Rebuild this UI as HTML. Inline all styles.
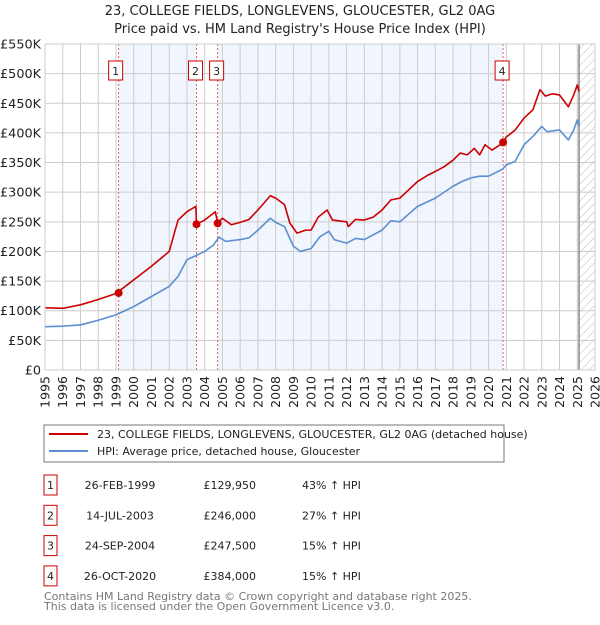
<!DOCTYPE html>
<html><head><meta charset="utf-8"><style>
body{margin:0;background:#fff;}
svg text{font-family:"DejaVu Sans","Liberation Sans",sans-serif;}
</style></head><body>
<svg id="c" width="600" height="620" xmlns="http://www.w3.org/2000/svg">
<defs><pattern id="hatch" width="6" height="6" patternUnits="userSpaceOnUse" patternTransform="rotate(45)"><line x1="0" y1="0" x2="0" y2="6" stroke="#bbb" stroke-width="1"/></pattern></defs>
<text x="300" y="15" text-anchor="middle" font-size="13" fill="#222">23, COLLEGE FIELDS, LONGLEVENS, GLOUCESTER, GL2 0AG</text>
<text x="300" y="33" text-anchor="middle" font-size="13" fill="#222">Price paid vs. HM Land Registry's House Price Index (HPI)</text>
<g id="plot"></g>
<rect x="44" y="425" width="460" height="37" fill="#fff" stroke="#777"/>
<line x1="49" y1="434" x2="88" y2="434" stroke="#cc0000" stroke-width="2"/>
<text x="97" y="438" font-size="11" fill="#222">23, COLLEGE FIELDS, LONGLEVENS, GLOUCESTER, GL2 0AG (detached house)</text>
<line x1="49" y1="451" x2="88" y2="451" stroke="#5b8fd0" stroke-width="2"/>
<text x="97" y="455" font-size="11" fill="#222">HPI: Average price, detached house, Gloucester</text>
<g id="table" font-size="11" fill="#222"></g>
<text x="44" y="600" font-size="11" fill="#777">Contains HM Land Registry data © Crown copyright and database right 2025.</text>
<text x="44" y="610" font-size="11" fill="#777">This data is licensed under the Open Government Licence v3.0.</text>
</svg>
<script>
const hpiYears=[1995,1996,1997,1998,1999,2000,2001,2002,2002.5,2003,2003.5,2004,2004.5,2004.8,2005.2,2006,2006.5,2007,2007.7,2008,2008.5,2009,2009.4,2010,2010.5,2011,2011.3,2012,2012.5,2013,2014,2014.5,2015,2016,2017,2018,2018.5,2019,2019.5,2020,2020.8,2021,2021.5,2022,2022.5,2023,2023.3,2024,2024.5,2024.8,2025,2025.1];
const hpiValues=[73,74,76,84,93,107,124,141,158,186,193,200,211,224,217,220,223,236,256,249,242,209,200,205,225,234,220,214,222,220,236,252,250,276,290,310,318,324,327,327,339,346,352,380,394,411,402,405,388,405,422,411];
const priceYears=[1995,1996,1997,1998,1999,2000,2001,2002,2002.5,2003,2003.5,2003.54,2004,2004.6,2004.73,2005,2005.5,2006,2006.5,2007,2007.7,2008,2008.5,2008.8,2009.2,2009.7,2010,2010.4,2010.9,2011.2,2012,2012.1,2012.5,2013,2013.5,2014,2014.5,2015,2015.5,2016,2016.6,2017,2017.5,2018,2018.4,2018.8,2019.2,2019.5,2019.8,2020.2,2020.8,2021,2021.5,2022,2022.5,2022.9,2023.2,2023.6,2024,2024.5,2024.8,2025,2025.1];
const priceValues=[105,104,110,119,129,152,175,200,253,267,276,246,253,267,248,256,245,249,254,270,294,290,279,248,231,236,236,258,270,253,250,242,254,253,258,270,287,290,304,318,329,335,343,354,366,363,374,363,380,371,383,393,405,425,439,473,462,466,464,444,464,481,470];
const saleYears=[1999.15,2003.54,2004.73,2020.82];
const saleLabels=["1","2","3","4"];
const saleDates=["26-FEB-1999","14-JUL-2003","24-SEP-2004","26-OCT-2020"];
const salePrices=[129950,246000,247500,384000];
const saleHpi=["43% \u2191 HPI","27% \u2191 HPI","15% \u2191 HPI","15% \u2191 HPI"];
const yTicks=[0,50,100,150,200,250,300,350,400,450,500,550];
const yTickLabels=["£0","£50K","£100K","£150K","£200K","£250K","£300K","£350K","£400K","£450K","£500K","£550K"];
const xTicks=[1995,1996,1997,1998,1999,2000,2001,2002,2003,2004,2005,2006,2007,2008,2009,2010,2011,2012,2013,2014,2015,2016,2017,2018,2019,2020,2021,2022,2023,2024,2025,2026];
const dataEnd=2025.1;

const NS="http://www.w3.org/2000/svg";
const X0=45,X1=595,Y0=370,Y1=44;
const sx=y=>X0+(y-1995)/(2026-1995)*(X1-X0);
const sy=v=>Y0-v/550*(Y0-Y1);
function mk(tag,attrs,parent){const e=document.createElementNS(NS,tag);for(const k in attrs)e.setAttribute(k,attrs[k]);parent.appendChild(e);return e;}
const g=document.getElementById('plot');
for(let i=0;i<saleYears.length-1;i+=2){
 const r=mk('rect',{x:sx(saleYears[i]),y:Y1,width:sx(saleYears[i+1])-sx(saleYears[i]),height:Y0-Y1,fill:'#eef3fc',opacity:0.8},g);
 
 
}
const h=mk('rect',{x:sx(dataEnd),y:Y1,width:X1-sx(dataEnd),height:Y0-Y1,fill:'url(#hatch)'},g);


yTicks.forEach((t,i)=>{
 const l=mk('line',{x1:X0,x2:X1,y1:sy(t),y2:sy(t),stroke:'#ccc','stroke-width':1},g);
 
 
 const tx=mk('text',{x:X0-4,y:sy(t)+4.5,'text-anchor':'end','font-size':12.8,fill:'#222'},g);
 tx.textContent=yTickLabels[i];
 
 
});
xTicks.forEach(t=>{
 const l=mk('line',{x1:sx(t),x2:sx(t),y1:Y1,y2:Y0,stroke:'#ccc','stroke-width':1},g);
 
 
 const tx=mk('text',{x:0,y:0,'text-anchor':'end','font-size':12.5,fill:'#222',transform:`translate(${sx(t)+4.5},${Y0+6}) rotate(-90)`},g);
 tx.textContent=t;
 
 
});
const dl=mk('line',{x1:sx(dataEnd),x2:sx(dataEnd),y1:Y1,y2:Y0,stroke:'#888','stroke-width':1.5},g);


saleYears.forEach((y,i)=>{
 const l=mk('line',{x1:sx(y),x2:sx(y),y1:Y1,y2:Y0,stroke:'#e06060','stroke-width':1,'stroke-dasharray':'2,2'},g);
 
 
 const b=mk('rect',{x:sx(y)-8-(i==0?2:0),y:61,width:14,height:19,fill:'#fff',stroke:'#cc0000'},g);
 
 
 const t=mk('text',{x:sx(y)-1-(i==0?2:0),y:75,'text-anchor':'middle','font-size':11,fill:'#222'},g);
 t.textContent=saleLabels[i];
 
 
});
function line(xs,vs,color,name){
 const p=mk('polyline',{points:xs.map((x,i)=>sx(x)+','+sy(vs[i])).join(' '),fill:'none',stroke:color,'stroke-width':1.6,'stroke-linejoin':'round'},g);
 
 
}
line(hpiYears,hpiValues,'#5b8fd0','hpi-line');
line(priceYears,priceValues,'#cc0000','price-line');
saleYears.forEach((y,i)=>{
 const c=mk('circle',{cx:sx(y),cy:sy(salePrices[i]/1000),r:4,fill:'#cc0000'},g);
 
 
});
mk('rect',{x:X0,y:Y1,width:X1-X0,height:Y0-Y1,fill:'none',stroke:'#ccc'},g);
const tb=document.getElementById('table');
saleYears.forEach((y,i)=>{
 const cy=485+i*30.3;
 const b=mk('rect',{x:44,y:cy-10,width:13,height:20,fill:'#fff',stroke:'#cc0000'},tb);
 
 
 const vals=[[saleLabels[i],50.5,'middle'],[saleDates[i],120,'middle'],['£'+salePrices[i].toLocaleString('en-GB'),256,'end'],[saleHpi[i],302,'start']];
 const names=['table-row-number','table-sale-date','table-sale-price','table-hpi-change'];
 vals.forEach((v,j)=>{
  const t=mk('text',{x:v[1],y:cy+4,'text-anchor':v[2]},tb);
  t.textContent=v[0];
  
  
 });
});
</script>
</body></html>
